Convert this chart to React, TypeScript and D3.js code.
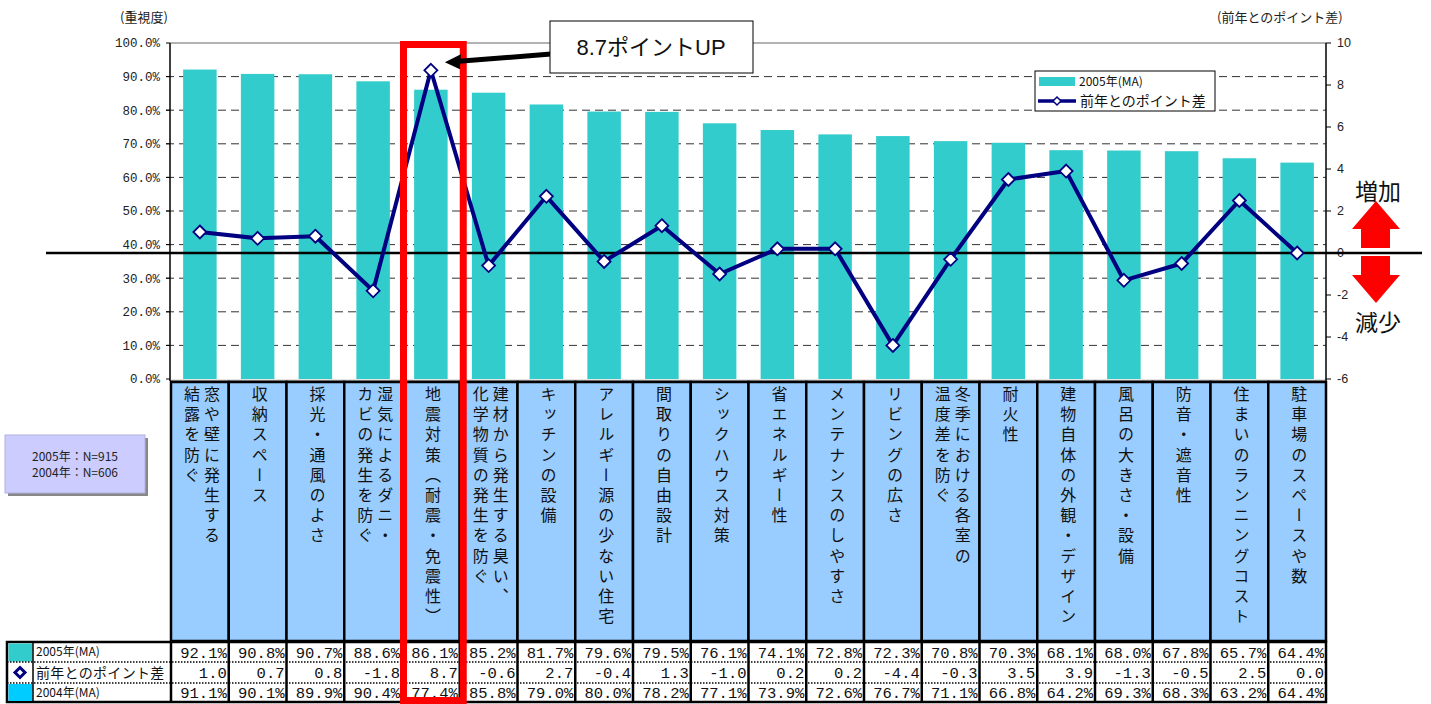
import * as d3 from 'd3';

const labels: string[][] = [
  ['窓や壁に発生する', '結露を防ぐ'],
  ['収納スペース'],
  ['採光・通風のよさ'],
  ['湿気によるダニ・', 'カビの発生を防ぐ'],
  ['地震対策（耐震・免震性）'],
  ['建材から発生する臭い、', '化学物質の発生を防ぐ'],
  ['キッチンの設備'],
  ['アレルギー源の少ない住宅'],
  ['間取りの自由設計'],
  ['シックハウス対策'],
  ['省エネルギー性'],
  ['メンテナンスのしやすさ'],
  ['リビングの広さ'],
  ['冬季における各室の', '温度差を防ぐ'],
  ['耐火性'],
  ['建物自体の外観・デザイン'],
  ['風呂の大きさ・設備'],
  ['防音・遮音性'],
  ['住まいのランニングコスト'],
  ['駐車場のスペースや数'],
];
const v2005 = [92.1, 90.8, 90.7, 88.6, 86.1, 85.2, 81.7, 79.6, 79.5, 76.1, 74.1, 72.8, 72.3, 70.8, 70.3, 68.1, 68.0, 67.8, 65.7, 64.4];
const diff = [1.0, 0.7, 0.8, -1.8, 8.7, -0.6, 2.7, -0.4, 1.3, -1.0, 0.2, 0.2, -4.4, -0.3, 3.5, 3.9, -1.3, -0.5, 2.5, 0.0];
const v2004 = [91.1, 90.1, 89.9, 90.4, 77.4, 85.8, 79.0, 80.0, 78.2, 77.1, 73.9, 72.6, 76.7, 71.1, 66.8, 64.2, 69.3, 68.3, 63.2, 64.4];
const leftTicks = d3.range(0, 101, 10);
const rightTicks = d3.range(-6, 11, 2);
const highlight = 4;

const W = 1431, H = 704;
const left = 170, right = 1326, top = 43, bottom = 379;
const teal = '#33CCCC', navy = '#000080', cellBlue = '#99CCFF';
const jp = '"Noto Sans CJK JP", "Liberation Sans", sans-serif';
const mono = '"Liberation Mono", "DejaVu Sans Mono", monospace';
const sans = '"Liberation Sans", "Noto Sans CJK JP", sans-serif';

const diamond = (s: number) => `M0,${-s}L${s},0L0,${s}L${-s},0Z`;

export default function App() {
  const idx = d3.range(labels.length);
  const cols = d3.scaleBand<number>().domain(idx).range([left + 1, right]).padding(0);
  const x = d3.scaleBand<number>().domain(idx).range([left + 1, right]).paddingInner(0.42).paddingOuter(0.21);
  const yL = d3.scaleLinear([0, 100], [bottom, top]);
  const yR = d3.scaleLinear([-6, 10], [bottom, top]);
  const cx = (i: number) => (cols(i) as number) + cols.bandwidth() / 2;
  const line = d3.line<number>((d, i) => cx(i), (d) => yR(d));

  const headTop = 382, headBottom = 641;
  const rows = [642, 662, 683, 702];
  const y0 = yR(0);

  const hx0 = cols(highlight) as number;
  const hx1 = hx0 + cols.bandwidth();
  const peakX = cx(highlight), peakY = yR(diff[highlight]);

  return (
    <svg width={W} height={H} style={{ position: 'absolute', left: 0, top: 0 }}>
      <rect width={W} height={H} fill="#fff" />

      {/* gridlines */}
      {leftTicks.filter((t) => t > 0 && t < 100).map((t) => (
        <line key={t} x1={left - 4} x2={right} y1={yL(t)} y2={yL(t)} stroke="#333" strokeDasharray="8,5" />
      ))}

      {/* bars */}
      {v2005.map((v, i) => (
        <rect key={i} x={x(i)} width={x.bandwidth()} y={yL(v)} height={yL(0) - yL(v)} fill={teal} />
      ))}

      {/* frame and axes */}
      <line x1={left} x2={right} y1={top} y2={top} stroke="#999" strokeWidth={1.5} />
      <line x1={left} x2={right} y1={bottom + 1.5} y2={bottom + 1.5} stroke="#999" strokeWidth={1.5} />
      <line x1={left} x2={left} y1={top} y2={bottom + 2} stroke="#000" strokeWidth={1.5} />
      <line x1={right} x2={right} y1={top} y2={bottom + 2} stroke="#000" strokeWidth={1.5} />
      {leftTicks.map((t) => (
        <g key={t}>
          <line x1={left - 4} x2={left} y1={yL(t)} y2={yL(t)} stroke="#000" />
          <text x={160} y={yL(t)} dy="0.35em" textAnchor="end" fontFamily={mono} fontSize={12.5} fill="#222">
            {t.toFixed(1) + '%'}
          </text>
        </g>
      ))}
      {rightTicks.map((t) => (
        <g key={t}>
          <line x1={right} x2={right + 5} y1={yR(t)} y2={yR(t)} stroke="#000" />
          <text x={1337} y={yR(t)} dy="0.35em" fontFamily={sans} fontSize={12.5} fill="#222">
            {t}
          </text>
        </g>
      ))}
      <text x={120} y={22} fontFamily={jp} fontSize={13} fill="#222">(重視度)</text>
      <text x={1217} y={22} fontFamily={jp} fontSize={13} fill="#222">(前年とのポイント差)</text>

      {/* zero line */}
      <line x1={46} x2={1422} y1={y0} y2={y0} stroke="#000" strokeWidth={2.5} />

      {/* diff line */}
      <path d={line(diff) ?? undefined} fill="none" stroke={navy} strokeWidth={4} strokeLinejoin="round" />
      {diff.map((d, i) => (
        <path key={i} d={diamond(6.5)} transform={`translate(${cx(i)},${yR(d)})`} fill="#fff" stroke={navy} strokeWidth={1.8} />
      ))}

      {/* category header cells */}
      {idx.map((i) => {
        const c0 = cols(i) as number;
        const n = labels[i].length;
        return (
          <g key={i}>
            <rect x={c0} y={headTop} width={cols.bandwidth()} height={headBottom - headTop} fill={cellBlue} stroke="#000" strokeWidth={2.5} />
            {labels[i].map((s, k) => (
              <text
                key={k}
                x={cx(i) + 2 + ((n - 1) / 2) * 20 - k * 20}
                y={386}
                writingMode="vertical-rl"
                fontFamily={jp}
                fontSize={16}
                letterSpacing={4.2}
                fill="#111"
              >
                {s}
              </text>
            ))}
          </g>
        );
      })}

      {/* data table */}
      <rect x={7} y={rows[0]} width={right - 7} height={rows[3] - rows[0]} fill="#fff" stroke="#000" strokeWidth={2.5} />
      <rect x={8.5} y={rows[0] + 1.5} width={24} height={rows[1] - rows[0] - 2} fill={teal} />
      <rect x={8.5} y={rows[2] + 1} width={24} height={rows[3] - rows[2] - 2} fill="#00CCFF" />
      <path d={diamond(5)} transform={`translate(20,${(rows[1] + rows[2]) / 2})`} fill="#fff" stroke={navy} strokeWidth={3} />
      <line x1={33} x2={33} y1={rows[0]} y2={rows[3]} stroke="#000" strokeWidth={1.5} />
      {[rows[1], rows[2]].map((r) => (
        <line key={r} x1={7} x2={right} y1={r} y2={r} stroke="#000" strokeWidth={1.5} strokeDasharray="1.5,1.5" />
      ))}
      <text x={36} y={(rows[0] + rows[1]) / 2} dy="0.36em" fontFamily={jp} fontSize={12} fill="#111">2005年(MA)</text>
      <text x={36} y={(rows[1] + rows[2]) / 2} dy="0.36em" fontFamily={jp} fontSize={14} letterSpacing={0.3} fill="#111">前年とのポイント差</text>
      <text x={36} y={(rows[2] + rows[3]) / 2} dy="0.36em" fontFamily={jp} fontSize={12} fill="#111">2004年(MA)</text>
      {idx.map((i) => {
        const c0 = cols(i) as number;
        const c1 = c0 + cols.bandwidth();
        return (
          <g key={i} fontFamily={mono} fontSize={15.5} fill="#111" textAnchor="end">
            <line x1={c0} x2={c0} y1={rows[0]} y2={rows[3]} stroke="#000" strokeWidth={2.5} />
            <text x={c1 - 2} y={(rows[0] + rows[1]) / 2} dy="0.36em">{v2005[i].toFixed(1) + '%'}</text>
            <text x={c1 - 2} y={(rows[1] + rows[2]) / 2} dy="0.36em">{diff[i].toFixed(1)}</text>
            <text x={c1 - 2} y={(rows[2] + rows[3]) / 2} dy="0.36em">{v2004[i].toFixed(1) + '%'}</text>
          </g>
        );
      })}

      {/* N box */}
      <rect x={8} y={438} width={140} height={58} fill="#888" />
      <rect x={5} y={435} width={140} height={58} fill="#CCCCFF" stroke="#B0B0E0" />
      <text x={75} y={457} dy="0.35em" textAnchor="middle" fontFamily={jp} fontSize={12} fill="#222">2005年：N=915</text>
      <text x={75} y={473} dy="0.35em" textAnchor="middle" fontFamily={jp} fontSize={12} fill="#222">2004年：N=606</text>

      {/* highlight rectangle */}
      <rect x={hx0 + 1.5} y={44.5} width={hx1 - hx0 + 2} height={656} fill="none" stroke="#FF0000" strokeWidth={7} />

      {/* callout */}
      <line x1={551} y1={54} x2={peakX + 28} y2={peakY - 9} stroke="#000" strokeWidth={5} />
      <path d={`M${peakX + 14},${peakY - 8}L${peakX + 30},${peakY - 16}L${peakX + 29},${peakY - 1}Z`} fill="#000" />
      <rect x={550} y={21} width={203} height={52} fill="#fff" stroke="#000" strokeWidth={1} />
      <text x={651} y={47} dy="0.35em" textAnchor="middle" fontFamily={sans} fontSize={22} fill="#111">8.7ポイントUP</text>

      {/* legend */}
      <rect x={1035} y={71} width={180} height={40} fill="#fff" stroke="#000" strokeWidth={1} />
      <rect x={1039} y={77} width={36} height={9} fill={teal} />
      <text x={1079} y={82} dy="0.35em" fontFamily={jp} fontSize={12} fill="#111">2005年(MA)</text>
      <line x1={1038} x2={1076} y1={101} y2={101} stroke={navy} strokeWidth={3.5} />
      <path d={diamond(4)} transform="translate(1057,101)" fill="#fff" stroke={navy} strokeWidth={1.5} />
      <text x={1080} y={101} dy="0.35em" fontFamily={jp} fontSize={14} fill="#111">前年とのポイント差</text>

      {/* increase / decrease arrows */}
      <text x={1378} y={192} dy="0.35em" textAnchor="middle" fontFamily={jp} fontSize={23} fill="#111">増加</text>
      <path
        d={`M1376,${y0 - 52}L1400,${y0 - 24}L1390,${y0 - 24}L1390,${y0 - 5}L1361,${y0 - 5}L1361,${y0 - 24}L1352,${y0 - 24}Z`}
        fill="#FF0000"
      />
      <path
        d={`M1361,${y0 + 3}L1390,${y0 + 3}L1390,${y0 + 22}L1400,${y0 + 22}L1376,${y0 + 50}L1352,${y0 + 22}L1361,${y0 + 22}Z`}
        fill="#FF0000"
      />
      <text x={1378} y={323} dy="0.35em" textAnchor="middle" fontFamily={jp} fontSize={23} fill="#111">減少</text>
    </svg>
  );
}
